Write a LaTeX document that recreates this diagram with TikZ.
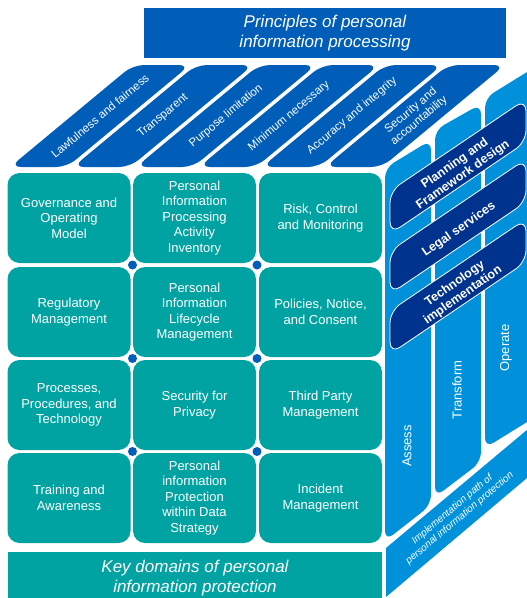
\documentclass[tikz,border=0pt]{standalone}
\usepackage{fontspec}
\setmainfont{Liberation Sans}
\usepackage{tikz}
\usetikzlibrary{positioning}

\definecolor{kblue}{HTML}{00338D}
\definecolor{kmedium}{HTML}{005EB8}
\definecolor{klight}{HTML}{0091DA}
\definecolor{kteal}{HTML}{00A3A1}

\tikzset{
domain box/.style = { rectangle, fill = kteal, text = white, rounded corners = 12pt, minimum width = 123pt, minimum height = 90pt, align = center, font = \fontsize{13}{15.5}\selectfont },
banner/.style = { rectangle, text = white, align = center, font = \fontsize{17}{20}\selectfont\itshape },
junction/.style = { circle, fill = kmedium, inner sep = 0pt, minimum size = 9pt },
phase/.style = { text = white, rotate = 90, font = \fontsize{13}{15}\selectfont },
phase col/.style = { fill = klight, rounded corners = 10pt },
}
\tikzset{
pics/principle/.style = {
        code = {
        \path[fill = kmedium, rounded corners = 11pt] (-90, 51) -- (33, -51) -- (90, -51) -- (-33, 51) -- cycle;
        \node[text = white, rotate = 40, align = center, font = \fontsize{11.5}{13}\selectfont] (-text) at (0, 0) {#1};
        }
    },
pics/service/.style = {
        code = {
        % \path[fill = kblue] (-68, 24.5) -- (-68, 67.5) -- (68, -24.5) -- (68, -67.5) -- cycle;
        \path[draw = white, line width = 0.8pt, fill = kblue, rounded corners = 12pt] (-68, 24.5) -- (-68, 67.5) -- (68, -24.5) -- (68, -67.5) -- cycle;
        \node[text = white, rotate = 35, align = center, font = \fontsize{12.5}{14}\selectfont\bfseries] (-text) at (1, 3) {#1};
        }
    }
}

\begin{document}
\begin{tikzpicture}[x = 1pt, y = -1pt]
    \useasboundingbox (0, 0) rectangle (527, 598);
    \clip (0, 0) rectangle (527, 598);
    % principles
    \node[banner, fill = kmedium, minimum width = 362pt, minimum height = 50pt] (principles) at (325, 33) {Principles of personal\\information processing};
    \path (100, 116) pic (lawful) {principle = {Lawfulness and fairness}};
    \path (163, 116) pic (transparent) {principle = {Transparent}};
    \path (226, 116) pic (purpose) {principle = {Purpose limitation}};
    \path (289, 116) pic (minimum) {principle = {Minimum necessary}};
    \path (352, 116) pic (accuracy) {principle = {Accuracy and integrity}};
    \path (415, 116) pic (security) {principle = {Security and\\accountability}};
    % domains
    \node[domain box] (governance) at (69, 218) {Governance and\\Operating\\Model};
    \node[domain box] (inventory) at (194.5, 218) {Personal\\Information\\Processing\\Activity\\Inventory};
    \node[domain box] (risk) at (320.5, 218) {Risk, Control\\and Monitoring};
    \node[domain box] (regulatory) at (69, 312) {Regulatory\\Management};
    \node[domain box] (lifecycle) at (194.5, 312) {Personal\\Information\\Lifecycle\\Management};
    \node[domain box] (policies) at (320.5, 312) {Policies, Notice,\\and Consent};
    \node[domain box] (processes) at (69, 405) {Processes,\\Procedures, and\\Technology};
    \node[domain box] (privacy) at (194.5, 405) {Security for\\Privacy};
    \node[domain box] (thirdparty) at (320.5, 405) {Third Party\\Management};
    \node[domain box] (training) at (69, 498) {Training and\\Awareness};
    \node[domain box] (strategy) at (194.5, 498) {Personal\\information\\Protection\\within Data\\Strategy};
    \node[domain box] (incident) at (320.5, 498) {Incident\\Management};
    \node[junction] (j11) at (132.5, 265) {};
    \node[junction] (j12) at (257, 265) {};
    \node[junction] (j21) at (132.5, 358.5) {};
    \node[junction] (j22) at (257, 358.5) {};
    \node[junction] (j31) at (132.5, 451.5) {};
    \node[junction] (j32) at (257, 451.5) {};
    \node[banner, fill = kteal, minimum width = 374pt, minimum height = 52pt] (domains) at (195, 578) {Key domains of personal\\information protection};
    % implementation path
    \path[phase col] (385, 541) -- (385, 168) -- (431, 140) -- (431, 505) -- cycle;
    \path[phase col] (435, 497) -- (435, 130) -- (481, 104) -- (481, 462) -- cycle;
    \path[phase col] (485, 448) -- (485, 98) -- (540, 64) -- (540, 414) -- cycle;
    \node[phase] (assess) at (407, 446) {Assess};
    \node[phase] (transform) at (457, 390) {Transform};
    \node[phase] (operate) at (506, 348) {Operate};
    \path[fill = klight] (386, 548) -- (540, 419) -- (540, 467) -- (386, 597) -- cycle;
    \node[text = white, rotate = 40, align = center, font = \fontsize{10}{11.5}\selectfont\itshape] (pathlabel) at (456, 514) {Implementation path of\\personal information protection};
    % services
    \path (458, 166.5) pic (planning) {service = {Planning and\\Framework design}};
    \path (458, 226.5) pic (legal) {service = {Legal services}};
    \path (458, 286.5) pic (technology) {service = {Technology\\implementation}};
\end{tikzpicture}
\end{document}
